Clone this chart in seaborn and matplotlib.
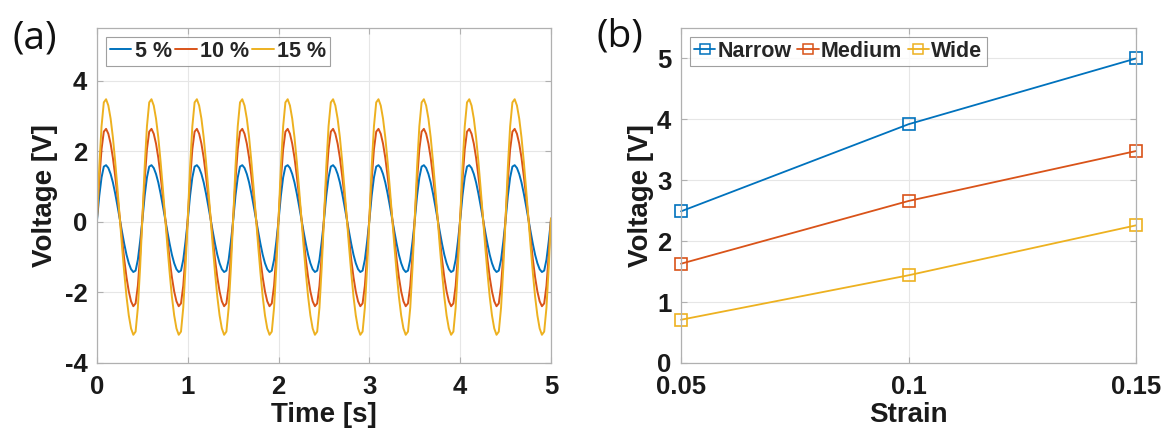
import numpy as np
import pandas as pd
import matplotlib
matplotlib.use("Agg")
import matplotlib.pyplot as plt
import seaborn as sns
from matplotlib.lines import Line2D

# ---------------- data ----------------
# panel (a): one period (0.5 s) of each waveform sampled every 0.025 s, read from the picture
period_step = 0.025
n_periods = 10
wave_5 = [0.05, 0.74, 1.26, 1.57, 1.61, 1.53, 1.36, 1.12, 0.81, 0.46,
          0.09, -0.27, -0.62, -0.93, -1.17, -1.34, -1.42, -1.38, -1.07, -0.55]
wave_10 = [0.1, 1.19, 2.06, 2.56, 2.64, 2.50, 2.22, 1.82, 1.31, 0.74,
           0.13, -0.49, -1.06, -1.57, -1.97, -2.25, -2.39, -2.31, -1.81, -0.94]
wave_15 = [0.1, 1.56, 2.71, 3.39, 3.48, 3.30, 2.93, 2.40, 1.72, 0.96,
           0.14, -0.68, -1.44, -2.12, -2.65, -3.02, -3.20, -3.11, -2.43, -1.28]
wave_labels = ["5 %", "10 %", "15 %"]

# panel (b)
strain = [0.05, 0.1, 0.15]
strain_ticklabels = ["0.05", "0.1", "0.15"]
narrow = [2.49, 3.92, 5.00]
medium = [1.63, 2.66, 3.48]
wide = [0.71, 1.44, 2.26]
width_labels = ["Narrow", "Medium", "Wide"]

colors = ["#0072BD", "#D95319", "#EDB120"]

# ---------------- style ----------------
sns.set_style("ticks")
plt.rcParams["font.family"] = ["Liberation Sans", "DejaVu Sans"]
plt.rcParams["font.weight"] = "bold"
plt.rcParams["axes.labelweight"] = "bold"
plt.rcParams["axes.unicode_minus"] = False

fig = plt.figure(figsize=(11.66, 4.32), dpi=100)
ax1 = fig.add_axes([97 / 1166, 1 - 363 / 432, 454 / 1166, 335 / 432])
ax2 = fig.add_axes([681 / 1166, 1 - 363 / 432, 455 / 1166, 335 / 432])

tick_col = "#1a1a1a"
spine_col = "#b0b0b0"
grid_col = "#e6e6e6"
TICK_FS = 18.5
LABEL_FS = 20


def style_axes(ax):
    for s in ax.spines.values():
        s.set_visible(True)
        s.set_color(spine_col)
        s.set_linewidth(0.9)
    ax.tick_params(direction="in", length=4, width=0.8, color=spine_col,
                   labelsize=TICK_FS, labelcolor=tick_col, top=True, right=True)
    ax.tick_params(axis="x", pad=9)
    ax.tick_params(axis="y", pad=7)
    ax.grid(True, color=grid_col, linewidth=0.8)
    ax.set_axisbelow(True)
    for lbl in ax.get_xticklabels() + ax.get_yticklabels():
        lbl.set_fontweight("bold")


# ---------------- panel (a) ----------------
t = np.arange(len(wave_5) * n_periods + 1) * period_step
rows = []
for lab, w in zip(wave_labels, [wave_5, wave_10, wave_15]):
    v = list(np.tile(w, n_periods)) + [w[0]]
    rows.append(pd.DataFrame({"Time": t, "Voltage": v, "Strain": lab}))
df_a = pd.concat(rows, ignore_index=True)

sns.lineplot(data=df_a, x="Time", y="Voltage", hue="Strain",
             palette=colors, hue_order=wave_labels, estimator=None,
             sort=False, linewidth=1.4, ax=ax1, legend=False)
ax1.set_xlim(0, 5)
ax1.set_ylim(-4, 5.5)
ax1.set_xticks([0, 1, 2, 3, 4, 5])
ax1.set_yticks([-4, -2, 0, 2, 4])
ax1.set_xlabel("Time [s]", fontsize=LABEL_FS, fontweight="bold", color=tick_col, labelpad=2)
ax1.set_ylabel("Voltage [V]", fontsize=LABEL_FS, fontweight="bold", color=tick_col, labelpad=5)
style_axes(ax1)
h1 = [Line2D([], [], color=c, lw=1.4) for c in colors]
leg1 = ax1.legend(h1, wave_labels, loc="upper left", ncol=3, frameon=True,
                  fancybox=False, edgecolor="#888888", fontsize=15.5,
                  handlelength=1.0, handletextpad=0.15, columnspacing=0.15,
                  borderpad=0.2, borderaxespad=0.4)
leg1.get_frame().set_linewidth(0.8)
for txt in leg1.get_texts():
    txt.set_fontweight("bold")

# ---------------- panel (b) ----------------
for lab, vals, c in zip(width_labels, [narrow, medium, wide], colors):
    df_b = pd.DataFrame({"Strain": strain, "Voltage": vals})
    sns.lineplot(data=df_b, x="Strain", y="Voltage", color=c, marker="s",
                 markersize=8.5, markerfacecolor="none", markeredgecolor=c,
                 markeredgewidth=1.2, linewidth=1.3, ax=ax2, legend=False)
ax2.set_xlim(0.05, 0.15)
ax2.set_ylim(0, 5.5)
ax2.set_xticks(strain)
ax2.set_xticklabels(strain_ticklabels)
ax2.set_yticks([0, 1, 2, 3, 4, 5])
ax2.set_xlabel("Strain", fontsize=LABEL_FS, fontweight="bold", color=tick_col, labelpad=2)
ax2.set_ylabel("Voltage [V]", fontsize=LABEL_FS, fontweight="bold", color=tick_col, labelpad=2)
style_axes(ax2)
for ln in ax2.lines:
    ln.set_clip_on(False)
h2 = [Line2D([], [], color=c, lw=1.3, marker="s", markersize=7,
             markerfacecolor="none", markeredgecolor=c, markeredgewidth=1.1)
      for c in colors]
leg2 = ax2.legend(h2, width_labels, loc="upper left", ncol=3, frameon=True,
                  fancybox=False, edgecolor="#888888", fontsize=15.5,
                  handlelength=1.0, handletextpad=0.1, columnspacing=0.25,
                  borderpad=0.2, borderaxespad=0.4)
leg2.get_frame().set_linewidth(0.8)
for txt in leg2.get_texts():
    txt.set_fontweight("bold")

# panel letters
fig.text(13 / 1166, 1 - 38 / 432, "(a)", fontsize=28, fontweight="normal",
         family=["Open Sans", "DejaVu Sans"], color="#111111", va="center")
fig.text(596 / 1166, 1 - 36 / 432, "(b)", fontsize=28, fontweight="normal",
         family=["Open Sans", "DejaVu Sans"], color="#111111", va="center")

fig.savefig("out.png", dpi=100)
